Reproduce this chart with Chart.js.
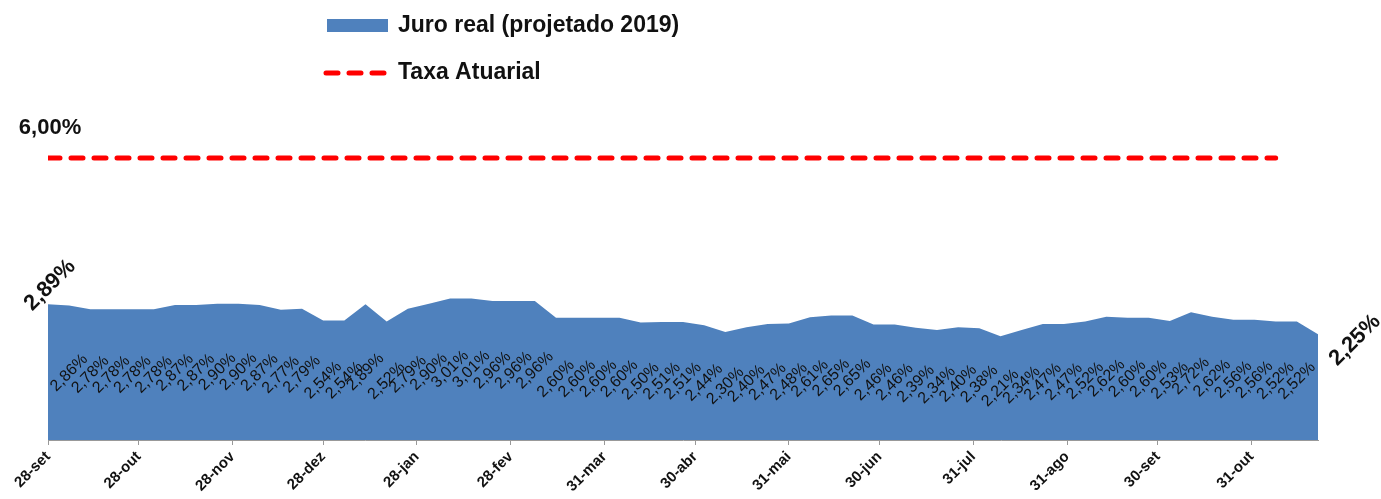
<!DOCTYPE html>
<html>
<head>
<meta charset="utf-8">
<script src="https://cdn.jsdelivr.net/npm/chart.js@4.4.0/dist/chart.umd.min.js"></script>
<style>
  html, body { margin: 0; padding: 0; background: #fff; }
  #wrap { width: 1381px; height: 499px; position: relative; }
</style>
</head>
<body>
<div id="wrap"><canvas id="grafico"></canvas></div>
<script>
// semanas (dias a partir de 28-set-2018)
const diasSemana = [0, 7, 14, 21, 28, 35, 42, 49, 56, 63, 70, 77, 84, 91, 98, 105, 112, 119, 126, 133,
  140, 147, 154, 161, 168, 175, 182, 189, 196, 203, 210, 217, 224, 231, 238, 245, 252, 259, 266, 273,
  280, 287, 294, 301, 308, 315, 322, 329, 336, 343, 350, 357, 364, 371, 378, 385, 392, 399, 406, 413, 420];

const jurosReal = [2.89, 2.86, 2.78, 2.78, 2.78, 2.78, 2.87, 2.87, 2.90, 2.90,
  2.87, 2.77, 2.79, 2.54, 2.54, 2.89, 2.52, 2.79, 2.90, 3.01,
  3.01, 2.96, 2.96, 2.96, 2.60, 2.60, 2.60, 2.60, 2.50, 2.51,
  2.51, 2.44, 2.30, 2.40, 2.47, 2.48, 2.61, 2.65, 2.65, 2.46,
  2.46, 2.39, 2.34, 2.40, 2.38, 2.21, 2.34, 2.47, 2.47, 2.52,
  2.62, 2.60, 2.60, 2.53, 2.72, 2.62, 2.56, 2.56, 2.52, 2.52,
  2.25];

const taxaAtuarial = [6.00, 6.00, 6.00, 6.00, 6.00, 6.00, 6.00, 6.00, 6.00, 6.00,
  6.00, 6.00, 6.00, 6.00, 6.00, 6.00, 6.00, 6.00, 6.00, 6.00,
  6.00, 6.00, 6.00, 6.00, 6.00, 6.00, 6.00, 6.00, 6.00, 6.00,
  6.00, 6.00, 6.00, 6.00, 6.00, 6.00, 6.00, 6.00, 6.00, 6.00,
  6.00, 6.00, 6.00, 6.00, 6.00, 6.00, 6.00, 6.00, 6.00, 6.00,
  6.00, 6.00, 6.00, 6.00, 6.00, 6.00, 6.00, 6.00, 6.00];

// rótulos do eixo x (dia a partir de 28-set)
const marcasDias = [0, 30, 61, 91, 122, 153, 184, 214, 245, 275, 306, 337, 367, 398];
const rotulosMeses = ['28-set', '28-out', '28-nov', '28-dez', '28-jan', '28-fev', '31-mar',
  '30-abr', '31-mai', '30-jun', '31-jul', '31-ago', '30-set', '31-out'];

const AZUL = '#4F81BD';
const VERMELHO = '#FF0000';
const FONTE = "'Liberation Sans', Arial, sans-serif";

function pct(v) {
  return v.toFixed(2).replace('.', ',') + '%';
}

function textoGirado(ctx, txt, x, y, font) {
  ctx.save();
  ctx.translate(x, y);
  ctx.rotate(-Math.PI / 4);
  ctx.font = font;
  ctx.textAlign = 'center';
  ctx.textBaseline = 'middle';
  ctx.fillText(txt, 0, 0);
  ctx.restore();
}

const rotulos = {
  id: 'rotulos',
  afterDatasetsDraw(chart) {
    const ctx = chart.ctx;
    const base = chart.chartArea.bottom;
    ctx.save();
    ctx.fillStyle = '#111';
    const pts = chart.getDatasetMeta(0).data;
    pts.forEach((p, i) => {
      const v = jurosReal[i];
      if (i === 0) {
        textoGirado(ctx, pct(v), p.x + 2, p.y - 19, 'bold 22px ' + FONTE);
      } else if (i === pts.length - 1) {
        textoGirado(ctx, pct(v), p.x + 37, p.y + 6, 'bold 22px ' + FONTE);
      } else {
        textoGirado(ctx, pct(v), p.x, (p.y + base) / 2, '16px ' + FONTE);
      }
    });
    const p0 = chart.getDatasetMeta(1).data[0];
    ctx.font = 'bold 22px ' + FONTE;
    ctx.textAlign = 'center';
    ctx.textBaseline = 'middle';
    ctx.fillText(pct(taxaAtuarial[0]), p0.x + 2, p0.y - 30);
    ctx.restore();
  }
};

const legenda = {
  id: 'legenda',
  afterDraw(chart) {
    const ctx = chart.ctx;
    const ds = chart.data.datasets;
    ctx.save();
    ctx.fillStyle = AZUL;
    ctx.fillRect(327, 19, 61, 13);
    ctx.strokeStyle = VERMELHO;
    ctx.lineWidth = 5;
    ctx.lineCap = 'round';
    ctx.setLineDash([12, 11]);
    ctx.beginPath();
    ctx.moveTo(326, 73);
    ctx.lineTo(386, 73);
    ctx.stroke();
    ctx.fillStyle = '#111';
    ctx.font = 'bold 23px ' + FONTE;
    ctx.textAlign = 'left';
    ctx.textBaseline = 'middle';
    ctx.fillText(ds[0].label, 398, 26);
    ctx.fillText(ds[1].label, 398, 73);
    ctx.restore();
  }
};

new Chart(document.getElementById('grafico'), {
  type: 'line',
  data: {
    datasets: [{
      label: 'Juro real (projetado 2019)',
      data: diasSemana.map((d, i) => ({ x: d, y: jurosReal[i] })),
      backgroundColor: AZUL,
      borderColor: AZUL,
      borderWidth: 0,
      fill: 'origin',
      pointRadius: 0,
      tension: 0
    }, {
      label: 'Taxa Atuarial',
      data: taxaAtuarial.map((v, i) => ({ x: diasSemana[i], y: v })),
      borderColor: VERMELHO,
      borderWidth: 5,
      borderDash: [12, 11],
      borderCapStyle: 'round',
      fill: false,
      pointRadius: 0,
      tension: 0
    }]
  },
  options: {
    responsive: true,
    maintainAspectRatio: false,
    animation: false,
    layout: { padding: { top: 111, left: 48, right: 63, bottom: 0 } },
    plugins: {
      legend: { display: false },
      tooltip: { enabled: false }
    },
    scales: {
      x: {
        type: 'linear',
        min: 0,
        max: 420,
        afterBuildTicks: (s) => { s.ticks = marcasDias.map(v => ({ value: v })); },
        afterFit: (s) => { s.height = 59; },
        grid: { display: true, drawOnChartArea: false, tickLength: 5, color: '#999' },
        border: { color: '#999' },
        ticks: {
          autoSkip: false,
          minRotation: 45,
          maxRotation: 45,
          color: '#111',
          font: { family: FONTE, weight: 'bold', size: 15 },
          callback: (v) => {
            const k = marcasDias.indexOf(v);
            return k >= 0 ? rotulosMeses[k] : '';
          }
        }
      },
      y: { display: false, min: 0, max: 7 }
    }
  },
  plugins: [rotulos, legenda]
});
</script>
</body>
</html>
